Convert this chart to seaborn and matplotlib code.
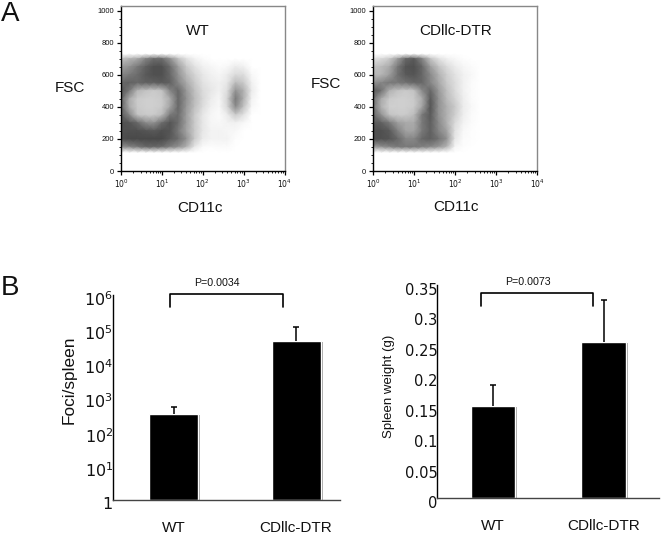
import numpy as np
import seaborn as sns
import matplotlib
matplotlib.use('Agg')
import matplotlib.pyplot as plt
from matplotlib.lines import Line2D
from matplotlib.patheffects import withSimplePatchShadow
from matplotlib.transforms import ScaledTranslation

W, H = 661, 535

# flow plots: how dark the dots make each spot (0 = white, 100 = black)
cd11c_log = [0, .2, .4, .6, .8, 1.0, 1.2, 1.4, 1.6, 1.8, 2.0, 2.2, 2.4, 2.6, 2.8, 3.0, 3.2, 3.4]
fsc_levels = [730, 700, 650, 600, 550, 500, 450, 400, 350, 300, 250, 200, 150, 115]
wt_density = [
    [0, 0, 0, 0, 0, 0, 0, 0, 0, 0, 0, 0, 0, 0, 0, 0, 0, 0],
    [25, 30, 35, 50, 60, 60, 45, 25, 12, 5, 2, 0, 0, 0, 0, 0, 0, 0],
    [40, 45, 55, 65, 72, 72, 60, 40, 22, 12, 6, 4, 2, 3, 8, 6, 0, 0],
    [50, 55, 60, 68, 72, 72, 62, 45, 28, 18, 10, 6, 4, 8, 15, 14, 3, 0],
    [62, 65, 62, 65, 65, 68, 65, 50, 35, 22, 12, 8, 6, 10, 28, 22, 6, 0],
    [70, 55, 30, 25, 22, 25, 50, 62, 42, 26, 15, 10, 6, 14, 45, 32, 8, 0],
    [65, 35, 22, 20, 20, 22, 35, 62, 45, 28, 16, 8, 4, 18, 55, 32, 5, 0],
    [65, 35, 22, 20, 20, 22, 38, 62, 42, 26, 14, 6, 3, 16, 48, 25, 3, 0],
    [68, 50, 25, 22, 22, 28, 55, 60, 40, 22, 10, 4, 2, 8, 22, 12, 0, 0],
    [72, 70, 62, 48, 45, 60, 70, 60, 40, 22, 10, 4, 3, 5, 6, 3, 0, 0],
    [72, 72, 72, 70, 68, 72, 70, 55, 38, 22, 10, 5, 5, 4, 3, 0, 0, 0],
    [72, 75, 75, 75, 75, 75, 68, 60, 45, 22, 8, 5, 5, 5, 1, 0, 0, 0],
    [45, 50, 55, 62, 62, 60, 52, 45, 32, 10, 2, 1, 2, 2, 0, 0, 0, 0],
    [0, 0, 0, 0, 0, 0, 0, 0, 0, 0, 0, 0, 0, 0, 0, 0, 0, 0],
]
dtr_density = [
    [0, 0, 0, 0, 0, 0, 0, 0, 0, 0, 0, 0, 0, 0, 0, 0, 0, 0],
    [12, 15, 22, 40, 62, 68, 50, 25, 12, 6, 3, 1, 0, 0, 0, 0, 0, 0],
    [25, 28, 35, 55, 70, 72, 62, 40, 25, 15, 8, 4, 2, 0, 0, 0, 0, 0],
    [30, 30, 40, 58, 68, 70, 62, 48, 32, 20, 12, 6, 3, 0, 0, 0, 0, 0],
    [45, 50, 55, 55, 58, 62, 62, 50, 36, 22, 14, 6, 2, 0, 0, 0, 0, 0],
    [68, 58, 32, 25, 22, 25, 48, 62, 42, 26, 15, 6, 2, 0, 0, 0, 0, 0],
    [60, 35, 22, 20, 20, 22, 35, 68, 45, 28, 18, 7, 2, 0, 0, 0, 0, 0],
    [58, 32, 20, 20, 20, 22, 38, 70, 45, 32, 22, 8, 3, 0, 0, 0, 0, 0],
    [62, 45, 25, 22, 22, 28, 55, 68, 45, 32, 20, 7, 2, 0, 0, 0, 0, 0],
    [68, 65, 55, 40, 35, 35, 55, 66, 48, 32, 15, 5, 2, 0, 0, 0, 0, 0],
    [72, 72, 68, 52, 38, 38, 55, 65, 50, 38, 12, 3, 1, 0, 0, 0, 0, 0],
    [72, 72, 70, 62, 50, 50, 62, 66, 58, 45, 10, 2, 1, 0, 0, 0, 0, 0],
    [40, 45, 50, 55, 55, 55, 52, 48, 42, 30, 4, 1, 0, 0, 0, 0, 0, 0],
    [0, 0, 0, 0, 0, 0, 0, 0, 0, 0, 0, 0, 0, 0, 0, 0, 0, 0],
]

# lone dots out on the right side of each flow plot
wt_dots_log = [1.7, 1.9, 2.0, 2.1, 2.15, 2.2, 2.3, 2.35, 2.4, 2.45, 2.5, 2.55, 2.6, 2.65, 2.7, 2.75, 2.8, 2.9,
               3.0, 3.05, 3.1, 3.15, 3.2, 3.25, 2.1, 2.2, 2.3, 2.4, 2.5, 2.6, 2.65, 2.7, 2.8, 2.9, 3.0, 2.0, 2.25,
               2.45, 2.55, 2.75, 2.85, 3.05, 1.95, 2.05, 2.35, 2.6, 2.95, 3.15]
wt_dots_fsc = [690, 660, 640, 610, 700, 560, 650, 500, 600, 680, 450, 560, 690, 620, 540, 690, 620, 680,
               600, 650, 560, 620, 500, 590, 350, 270, 240, 170, 300, 200, 150, 260, 330, 180, 280, 460, 410,
               190, 380, 210, 300, 400, 230, 520, 330, 160, 240, 450]
dtr_dots_log = [1.8, 1.9, 2.0, 2.1, 2.2, 2.25, 2.3, 2.35, 2.4, 2.45, 2.5, 2.55, 2.6, 2.65, 2.7, 2.75, 2.8, 2.9,
                3.0, 3.1, 3.15, 2.05, 2.15, 2.3, 2.4, 2.5, 2.6, 2.7, 2.75, 2.85, 2.3, 2.15, 2.45, 2.6, 2.55, 2.0,
                2.35, 2.25, 2.65, 2.1, 2.4]
dtr_dots_fsc = [700, 650, 670, 620, 710, 590, 670, 540, 610, 680, 500, 560, 640, 600, 520, 470, 430, 560,
                590, 620, 540, 200, 150, 280, 230, 330, 260, 370, 210, 320, 130, 340, 180, 380, 440, 240,
                400, 470, 300, 560, 120]

# bar charts
groups = ['WT', 'CDllc-DTR']
foci_mean = [325, 44000]
foci_top = [520, 115000]
weight_mean = [0.151, 0.256]
weight_top = [0.186, 0.326]
foci_ticks = [1, 10, 100, 1000, 10000, 100000, 1000000]
foci_labels = ['1', '$10^{1}$', '$10^{2}$', '$10^{3}$', '$10^{4}$', '$10^{5}$', '$10^{6}$']
weight_ticks = [0, 0.05, 0.1, 0.15, 0.2, 0.25, 0.3, 0.35]
weight_labels = ['0', '0.05', '0.1', '0.15', '0.2', '0.25', '0.3', '0.35']

sns.set_style('white')
plt.rcParams['font.family'] = ['Liberation Sans', 'DejaVu Sans']
plt.rcParams['mathtext.fontset'] = 'dejavusans'
plt.rcParams['text.color'] = '#111111'
plt.rcParams['xtick.labelcolor'] = '#111111'
plt.rcParams['ytick.labelcolor'] = '#111111'
fig = plt.figure(figsize=(W / 100, H / 100), dpi=100)


def box(left, top, right, bottom):  # axes from pixel edges
    return fig.add_axes([left / W, 1 - bottom / H, (right - left) / W, (bottom - top) / H])


def label(x, y, text, size=11, **kw):  # text placed at pixel position
    fig.text(x / W, 1 - y / H, text, fontsize=size, ha=kw.pop('ha', 'center'), va='center', **kw)


def flow_panel(ax, density, dots_log, dots_fsc):
    xx, yy = np.meshgrid(10 ** np.array(cd11c_log), fsc_levels)
    ax.set_xscale('log')
    ax.pcolormesh(xx, yy, np.array(density), shading='gouraud', cmap='gray_r', vmin=0, vmax=105)
    sns.scatterplot(x=10 ** np.array(dots_log), y=dots_fsc, color='#666666', s=0.5, linewidth=0, marker='s', ax=ax)
    ax.set_xlim(1, 10000)
    ax.set_ylim(0, 1029)
    ax.set_xticks([1, 10, 100, 1000, 10000], ['$10^{0}$', '$10^{1}$', '$10^{2}$', '$10^{3}$', '$10^{4}$'])
    ax.set_yticks([0, 200, 400, 600, 800, 1000], ['0', '200', '400', '600', '800', '1000'])
    ax.set_yticks(range(0, 1001, 50), minor=True)
    ax.tick_params(which='major', length=3, width=0.9, labelsize=5.5, pad=2, left=True, bottom=True, color='black')
    ax.tick_params(which='minor', length=1.5, width=0.6, left=True, bottom=True, color='black')
    for s in ['top', 'right']:
        ax.spines[s].set_color('#888888')
        ax.spines[s].set_linewidth(1)
    for s in ['left', 'bottom']:
        ax.spines[s].set_color('black')
        ax.spines[s].set_linewidth(1)


def bar_panel(ax, means, tops, log):
    sns.barplot(x=groups, y=means, color='black', width=0.4, saturation=1, ax=ax, log_scale=log)
    for p in ax.patches:
        if log:  # a bar from zero has no place on a log axis, so start it at the axis floor
            p.set_height(p.get_y() + p.get_height() - 1)
            p.set_y(1)
        p.set_path_effects([withSimplePatchShadow(offset=(1.5, -0.5), shadow_rgbFace='#777777', alpha=0.7)])
    upper = [t - m for t, m in zip(tops, means)]
    _, caps, _ = ax.errorbar([0, 1], means, yerr=[[0, 0], upper], fmt='none', ecolor='black',
                             elinewidth=1.1, capsize=2.5, capthick=1.1)
    caps[0].set_visible(False)
    for s in ['top', 'right']:
        ax.spines[s].set_visible(False)
    ax.spines['left'].set_color('black')
    ax.spines['left'].set_linewidth(1)
    ax.spines['bottom'].set_color('#444444')
    ax.spines['bottom'].set_linewidth(1)
    ax.tick_params(axis='x', length=0, pad=15, labelsize=11)
    ax.tick_params(axis='y', which='both', length=0, pad=0, labelsize=10.5)


def shift_labels(ax, down_px):  # y tick labels sit a little under their value in the original
    for t in ax.get_yticklabels():
        t.set_fontfamily('DejaVu Sans')
        t.set_transform(t.get_transform() + ScaledTranslation(0, -down_px / 100, fig.dpi_scale_trans))


def bracket(x0, x1, top, bottom):
    fig.add_artist(Line2D([x0 / W, x0 / W, x1 / W, x1 / W],
                          [1 - bottom / H, 1 - top / H, 1 - top / H, 1 - bottom / H],
                          color='black', lw=1.2))


# panel A
ax1 = box(121, 6, 284.5, 171)
flow_panel(ax1, wt_density, wt_dots_log, wt_dots_fsc)
ax2 = box(373, 6, 537, 171)
flow_panel(ax2, dtr_density, dtr_dots_log, dtr_dots_fsc)

# panel B
ax3 = box(113, 295, 340, 500)
bar_panel(ax3, foci_mean, foci_top, True)
ax3.set_xlim(-0.494, 1.359)
ax3.set_ylim(1, 1000000)
ax3.set_yticks(foci_ticks, foci_labels)
ax3.minorticks_off()
ax3.tick_params(axis='y', labelsize=11.5)
shift_labels(ax3, 3)

ax4 = box(437.3, 285, 659, 498.3)
bar_panel(ax4, weight_mean, weight_top, False)
ax4.set_xlim(-0.501, 1.5)
ax4.set_ylim(0, 0.35)
ax4.set_yticks(weight_ticks, weight_labels)
shift_labels(ax4, 4)

# labels
label(10, 14, 'A', size=20, ha='center')
label(10, 288, 'B', size=20, ha='center')
label(198, 31, 'WT')
label(456, 31, 'CDllc-DTR')
label(70, 88, 'FSC')
label(326, 84, 'FSC')
label(200, 208, 'CD11c')
label(456, 207, 'CD11c')
label(69, 380, 'Foci/spleen', size=12.4, rotation=90)
label(389, 386, 'Spleen weight (g)', size=9.5, rotation=90)
label(217, 283, 'P=0.0034', size=7.7)
label(528, 282, 'P=0.0073', size=7.7)
bracket(170, 283, 294, 307)
bracket(480.5, 593, 293, 306)

plt.savefig('out.png', dpi=100)
plt.close()
print("Chart saved.")
